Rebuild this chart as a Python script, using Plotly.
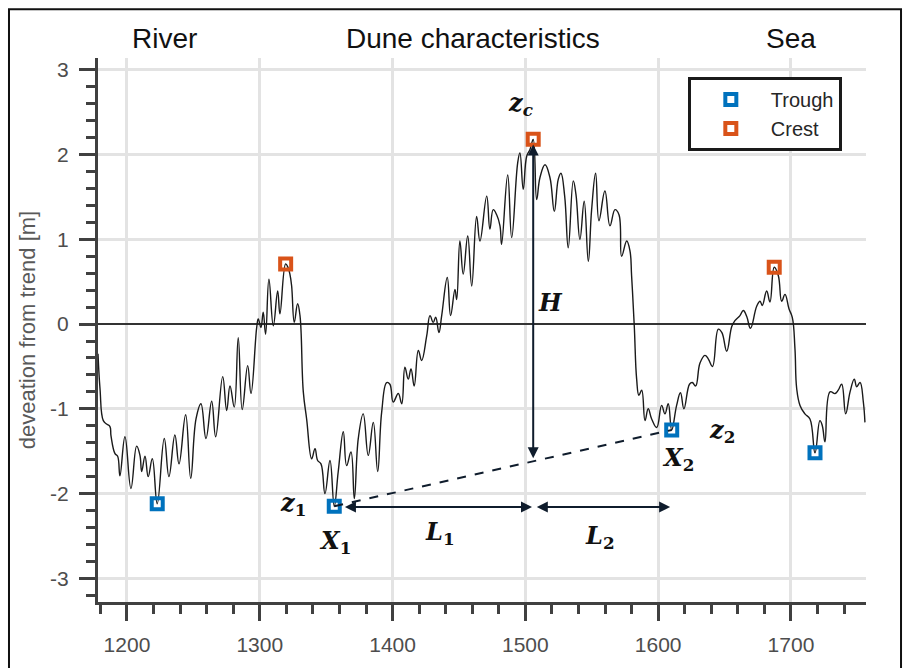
import plotly.graph_objects as go

# ---- data ----
dist = [1178.2, 1179.7, 1182.2, 1184.7, 1187.2, 1188.0, 1191.0, 1193.0, 1194.7, 1198.5,
        1203.0, 1207.3, 1209.8, 1211.1, 1213.6, 1216.0, 1219.1, 1222.8, 1228.1, 1231.6,
        1236.1, 1239.2, 1244.2, 1248.0, 1252.0, 1255.7, 1259.5, 1263.8, 1266.8, 1272.1,
        1275.1, 1277.6, 1280.8, 1283.8, 1286.8, 1290.9, 1293.4, 1297.7, 1298.9, 1300.9,
        1302.6, 1304.4, 1306.9, 1310.2, 1313.5, 1315.2, 1319.5, 1321.2, 1322.7, 1324.0,
        1326.0, 1328.5, 1330.3, 1332.8, 1335.3, 1339.1, 1341.6, 1343.6, 1346.1, 1349.1,
        1352.9, 1356.1, 1359.1, 1362.9, 1365.4, 1368.7, 1371.2, 1374.2, 1377.9, 1381.7,
        1385.5, 1388.8, 1391.8, 1395.6, 1398.0, 1400.5, 1404.3, 1406.9, 1409.3, 1411.8,
        1413.9, 1416.3, 1419.4, 1421.9, 1425.7, 1428.2, 1430.6, 1432.5, 1434.9, 1437.0,
        1441.2, 1443.7, 1447.0, 1448.3, 1450.7, 1453.2, 1456.6, 1459.6, 1463.3, 1465.8,
        1470.9, 1473.3, 1475.8, 1478.4, 1480.9, 1482.1, 1486.7, 1489.7, 1494.2, 1495.9,
        1498.4, 1501.0, 1503.5, 1505.9, 1508.5, 1511.0, 1514.8, 1518.5, 1521.8, 1524.8,
        1526.8, 1529.6, 1532.3, 1536.1, 1538.1, 1541.1, 1544.3, 1547.4, 1549.9, 1552.9,
        1555.4, 1559.9, 1563.7, 1567.5, 1570.5, 1572.5, 1576.3, 1578.8, 1580.0, 1582.0,
        1583.8, 1585.5, 1587.6, 1590.1, 1592.5, 1595.1, 1598.9, 1602.6, 1605.1, 1607.6,
        1610.2, 1613.9, 1616.8, 1619.4, 1623.6, 1625.7, 1628.2, 1631.5, 1635.2, 1637.7,
        1640.9, 1645.3, 1648.0, 1651.6, 1655.4, 1657.8, 1661.6, 1664.1, 1666.7, 1669.5,
        1674.2, 1676.7, 1678.4, 1681.7, 1684.2, 1687.4, 1690.5, 1693.0, 1695.5, 1698.5,
        1701.0, 1703.0, 1704.3, 1706.8, 1710.5, 1714.3, 1718.1, 1721.8, 1723.6, 1725.6,
        1729.4, 1733.2, 1735.6, 1738.2, 1741.2, 1744.5, 1747.7, 1749.5, 1752.0, 1754.5,
        1755.7]

dev = [-0.35, -0.76, -1.14, -1.18, -1.21, -1.32, -1.53, -1.56, -1.79, -1.33,
       -1.94, -1.44, -1.55, -1.74, -1.56, -1.80, -1.59, -2.12, -1.35, -1.80,
       -1.31, -1.65, -1.07, -1.82, -1.12, -0.94, -1.35, -0.91, -1.33, -0.62,
       -1.02, -0.73, -0.98, -0.16, -1.01, -0.49, -0.82, -0.04, 0.06, -0.04,
       0.14, -0.12, 0.53, -0.02, 0.39, 0.12, 0.71, 0.67, 0.59, 0.45,
       0.02, 0.24, 0.10, -0.80, -1.12, -1.59, -1.47, -1.61, -1.65, -2.00,
       -1.61, -2.15, -1.74, -1.27, -1.67, -1.51, -2.06, -1.35, -1.06, -1.55,
       -1.16, -1.74, -1.04, -0.69, -0.71, -0.92, -0.82, -0.94, -0.51, -0.65,
       -0.53, -0.73, -0.31, -0.43, -0.14, 0.10, 0.02, 0.08, -0.10, 0.10,
       0.55, 0.10, 0.41, 0.29, 0.98, 0.59, 1.04, 0.45, 1.27, 0.98,
       1.51, 1.12, 1.35, 1.29, 1.16, 0.94, 1.76, 1.02, 1.90, 2.02,
       1.59, 1.98, 2.06, 2.18, 1.47, 1.73, 1.88, 1.73, 1.33, 1.71,
       1.78, 1.51, 0.90, 1.69, 1.53, 1.00, 1.45, 0.74, 1.35, 1.78,
       1.22, 1.57, 1.16, 1.35, 1.29, 0.80, 0.98, 0.86, 0.57, -0.02,
       -0.65, -0.84, -0.78, -1.14, -1.00, -1.12, -1.22, -0.96, -1.06, -0.94,
       -1.25, -0.96, -0.81, -1.00, -0.71, -0.69, -0.73, -0.46, -0.37, -0.41,
       -0.50, -0.06, -0.10, -0.32, -0.03, 0.04, 0.10, 0.16, 0.09, -0.05,
       0.21, 0.27, 0.22, 0.39, 0.26, 0.67, 0.57, 0.27, 0.35, 0.18,
       0.08, -0.29, -0.76, -0.96, -1.06, -1.12, -1.52, -1.14, -1.20, -1.39,
       -0.80, -0.82, -0.78, -0.71, -1.06, -0.80, -0.65, -0.74, -0.69, -0.92,
       -1.16]

assert len(dist) == len(dev), (len(dist), len(dev))

trough_x = [1222.8, 1356.1, 1610.2, 1718.1]
trough_y = [-2.12, -2.15, -1.25, -1.52]
crest_x = [1319.5, 1505.9, 1687.4]
crest_y = [0.71, 2.18, 0.67]

x_ticks = [1200, 1300, 1400, 1500, 1600, 1700]
y_ticks = [-3, -2, -1, 0, 1, 2, 3]
y_tick_text = ["-3", "-2", "-1", "0", "1", "2", "3"]

section_labels = ["River", "Dune characteristics", "Sea"]
section_x = [1228.6, 1460.5, 1700.0]

BLUE = "#0072BD"
ORANGE = "#D95319"
AXC = "#404040"
NAVY = "#0f1c2c"
SANS = "Liberation Sans, Arial, sans-serif"
SERIF = "DejaVu Serif, Liberation Serif, serif"

fig = go.Figure()
fig.add_trace(go.Scatter(x=dist, y=dev, mode="lines",
                         line=dict(color="#1a1a1a", width=1.4, shape="spline", smoothing=1.2),
                         showlegend=False, hoverinfo="skip"))
fig.add_trace(go.Scatter(x=trough_x, y=trough_y, mode="markers", name="Trough",
                         marker=dict(symbol="square-open", size=11, color=BLUE,
                                     line=dict(width=4, color=BLUE))))
fig.add_trace(go.Scatter(x=crest_x, y=crest_y, mode="markers", name="Crest",
                         marker=dict(symbol="square-open", size=11, color=ORANGE,
                                     line=dict(width=4, color=ORANGE))))

# dashed line between the two troughs bounding the main dune
fig.add_shape(type="line", xref="x", yref="y",
              x0=trough_x[1], y0=trough_y[1], x1=trough_x[2], y1=trough_y[2],
              line=dict(color=NAVY, width=2, dash="dash"))

# double-headed arrows
def darrow(x_head, y_head, x_tail, y_tail):
    fig.add_annotation(x=x_head, y=y_head, ax=x_tail, ay=y_tail,
                       xref="x", yref="y", axref="x", ayref="y",
                       text="", showarrow=True, arrowhead=2, arrowsize=1.1,
                       arrowwidth=2, arrowcolor=NAVY, arrowside="end+start",
                       startarrowhead=2, startarrowsize=1.1, standoff=0, startstandoff=0)

darrow(crest_x[1], 2.12, crest_x[1], -1.60)      # H
darrow(1505.0, -2.16, 1363.0, -2.16)              # L1
darrow(1609.0, -2.16, 1507.5, -2.16)              # L2

def mlabel(txt, x, y, size=24):
    fig.add_annotation(x=x, y=y, xref="x", yref="y", text=txt, showarrow=False,
                       font=dict(family=SERIF, size=size, color="#111111"))

mlabel("<b><i>z</i></b><sub><b><i>c</i></b></sub>", 1496.7, 2.60)
mlabel("<b><i>H</i></b>", 1519.3, 0.26)
mlabel("<b><i>z</i></b><sub><b>1</b></sub>", 1325.0, -2.12)
mlabel("<b><i>X</i></b><sub><b>1</b></sub>", 1356.6, -2.57)
mlabel("<b><i>L</i></b><sub><b>1</b></sub>", 1435.7, -2.46)
mlabel("<b><i>L</i></b><sub><b>2</b></sub>", 1556.0, -2.51)
mlabel("<b><i>X</i></b><sub><b>2</b></sub>", 1614.9, -1.59)
mlabel("<b><i>z</i></b><sub><b>2</b></sub>", 1648.0, -1.26)

for lab, xv in zip(section_labels, section_x):
    fig.add_annotation(x=xv, y=1.0366, xref="x", yref="paper", text=lab,
                       showarrow=False, yanchor="middle",
                       font=dict(family=SANS, size=28, color="#111111"))

# outer frame
fig.add_shape(type="rect", xref="paper", yref="paper",
              x0=-0.1159, x1=1.0456, y0=-0.25, y1=1.0897,
              line=dict(color="#111111", width=2), fillcolor="rgba(0,0,0,0)")

fig.update_xaxes(range=[1178.2, 1756.5], tickvals=x_ticks,
                 showgrid=True, gridcolor="#e3e3e3", gridwidth=2.5,
                 zeroline=False, showline=True, linecolor=AXC, linewidth=3,
                 ticks="outside", ticklen=16, tickwidth=3, tickcolor=AXC,
                 ticklabelstandoff=6,
                 tickfont=dict(family=SANS, size=21, color="#4d4d4d"),
                 minor=dict(dtick=20, tick0=1180, ticks="outside", ticklen=9,
                            tickwidth=3, tickcolor=AXC, showgrid=False))
fig.update_yaxes(range=[-3.28, 3.14], tickvals=y_ticks, ticktext=y_tick_text,
                 showgrid=True, gridcolor="#e3e3e3", gridwidth=2.5,
                 zeroline=True, zerolinecolor="#333333", zerolinewidth=1.5,
                 showline=True, linecolor=AXC, linewidth=3,
                 ticks="outside", ticklen=16, tickwidth=3, tickcolor=AXC,
                 ticklabelstandoff=6,
                 tickfont=dict(family=SANS, size=21, color="#4d4d4d"),
                 title=dict(text="deveation from trend [m]", standoff=9,
                            font=dict(family=SANS, size=22, color="#595959")),
                 minor=dict(dtick=0.2, tick0=0, ticks="outside", ticklen=9,
                            tickwidth=3, tickcolor=AXC, showgrid=False))

fig.update_layout(
    width=908, height=668,
    margin=dict(l=98, r=42, t=58, b=64),
    paper_bgcolor="white", plot_bgcolor="white",
    font=dict(family=SANS),
    legend=dict(x=0.768, y=0.965, xanchor="left", yanchor="top",
                bordercolor="#1a1a1a", borderwidth=3, bgcolor="white",
                font=dict(family=SANS, size=20, color="#262626"),
                itemwidth=70, tracegroupgap=0),
)

fig.write_html("out.html")
